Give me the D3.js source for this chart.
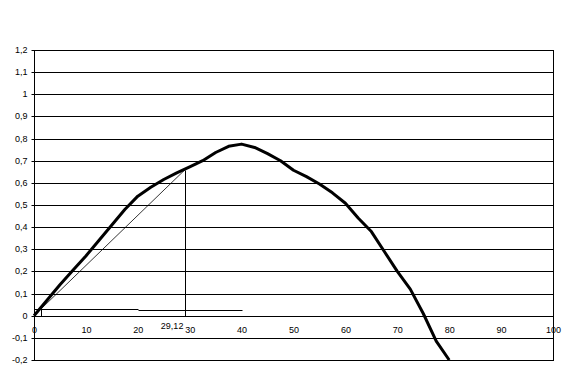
<!DOCTYPE html>
<html>
<head>
<meta charset="utf-8">
<script src="https://cdn.jsdelivr.net/npm/d3@7/dist/d3.min.js"></script>
<style>
html,body{margin:0;padding:0;background:#fff;}
svg{display:block;}
text{font-family:"Liberation Sans",Arial,sans-serif;fill:#000;}
</style>
</head>
<body>
<svg id="chart" width="571" height="371"></svg>
<script>
// ---- data ----
const curveX = [0,2.5,5,7.5,10,12.5,15,17.5,20,22.5,25,27.5,30,32.5,35,37.5,40,42.5,45,47.5,50,52.5,55,57.5,60,62.5,65,67.5,70,72.5,75,77.5,80];
const curveY = [0,0.07,0.14,0.205,0.27,0.34,0.41,0.48,0.54,0.58,0.615,0.645,0.672,0.70,0.737,0.765,0.775,0.76,0.732,0.70,0.657,0.628,0.595,0.555,0.508,0.44,0.38,0.29,0.2,0.12,0.01,-0.115,-0.2];
const tangentX = [0, 29.12];
const tangentY = [0, 0.66];
const markerX = [29.12, 29.12];
const markerY = [0.66, 0];
const levelAX = [0, 20];
const levelAY = [0.03, 0.03];
const levelBX = [20, 40];
const levelBY = [0.026, 0.026];
const tickMarkX = [1.3, 1.3];
const tickMarkY = [0, 0.03];
const markerLabel = "29,12";
const xTicks = [0,10,20,30,40,50,60,70,80,90,100];
const yTicks = [-0.2,-0.1,0,0.1,0.2,0.3,0.4,0.5,0.6,0.7,0.8,0.9,1,1.1,1.2];
const fmt = v => String(Math.round(v*10)/10).replace(".", ",");

// ---- layout ----
const svg = d3.select("#chart");
const L = 34, R = 553, T = 50, B = 360;
const x = d3.scaleLinear().domain([0,100]).range([L,R]);
const y = d3.scaleLinear().domain([-0.2,1.2]).range([B,T]);
const px = v => Math.round(v) + 0.5;

// gridlines
svg.append("g").selectAll("line").data(yTicks).join("line")
  .attr("x1", L).attr("x2", R)
  .attr("y1", d => px(y(d))).attr("y2", d => px(y(d)))
  .attr("stroke", "#000").attr("stroke-width", 1);

// y axis
const yAxis = d3.axisLeft(y).tickValues(yTicks).tickFormat(fmt).tickSize(3).tickPadding(4);
const gy = svg.append("g").attr("transform", `translate(${px(L)},0)`).call(yAxis);
gy.select(".domain").attr("stroke", "#000").attr("d", `M0,${y(1.2)}V${y(-0.2)}`);
gy.selectAll(".tick").attr("transform", d => `translate(0,${px(y(d))})`);
gy.selectAll("text").style("font-size", "9px").style("font-family", '"Liberation Sans",Arial,sans-serif');

// right border
svg.append("line").attr("x1", px(R)).attr("x2", px(R)).attr("y1", T).attr("y2", B+1)
  .attr("stroke", "#000");

// x axis labels (along zero line)
const xAxis = d3.axisBottom(x).tickValues(xTicks).tickFormat(d => String(d)).tickSize(0).tickPadding(10);
const gx = svg.append("g").attr("transform", `translate(0,${px(y(0))})`).call(xAxis);
gx.select(".domain").remove();
gx.selectAll("text").style("font-size", "9px").style("font-family", '"Liberation Sans",Arial,sans-serif');

const line = d3.line().x(d => x(d[0])).y(d => y(d[1]));
const zip = (a, b) => a.map((v, i) => [v, b[i]]);

// thin helper lines
[[levelAX, levelAY], [levelBX, levelBY], [tickMarkX, tickMarkY], [markerX, markerY]].forEach(([a, b]) => {
  svg.append("path").datum(zip(a, b)).attr("d", d3.line().x(d => px(x(d[0]))).y(d => px(y(d[1]))))
    .attr("fill", "none").attr("stroke", "#000").attr("stroke-width", 1);
});
svg.append("path").datum(zip(tangentX, tangentY)).attr("d", line)
  .attr("fill", "none").attr("stroke", "#000").attr("stroke-width", 0.8);

// main curve
svg.append("path").datum(zip(curveX, curveY)).attr("d", line)
  .attr("fill", "none").attr("stroke", "#000").attr("stroke-width", 3)
  .attr("stroke-linejoin", "round");

// marker label
svg.append("text").attr("x", x(markerX[0]) - 13).attr("y", y(0) + 13)
  .attr("text-anchor", "middle").style("font-size", "9px").text(markerLabel);
</script>
</body>
</html>
